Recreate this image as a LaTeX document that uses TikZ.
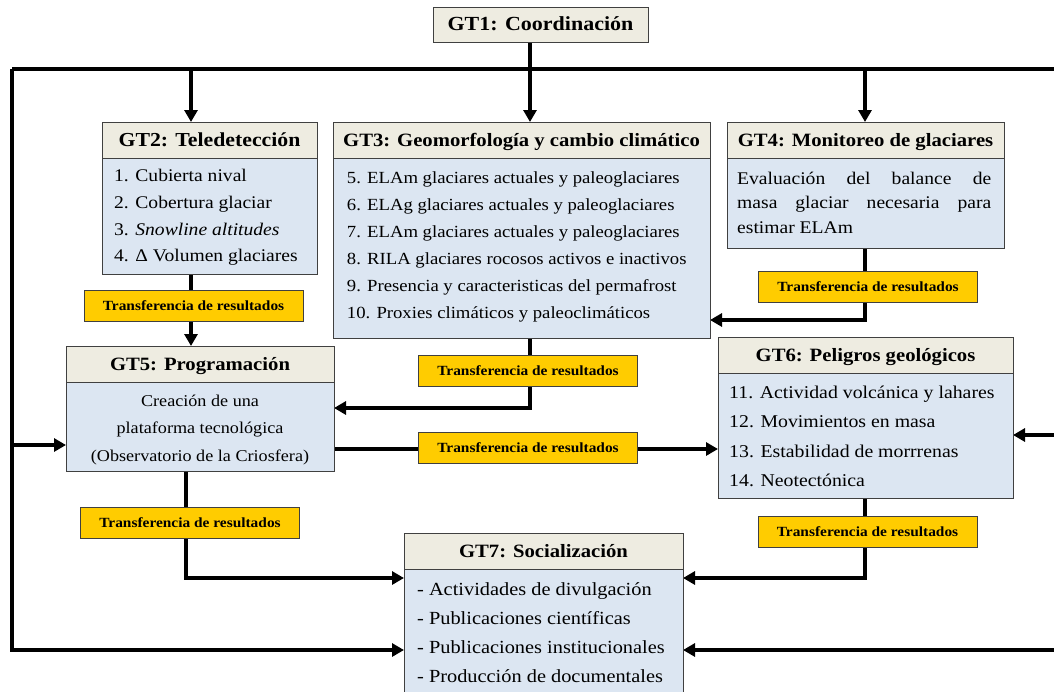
\documentclass[tikz,border=0pt]{standalone}
\usepackage{fontspec}
\setmainfont{Liberation Serif}[FakeStretch=1.1]
\usetikzlibrary{arrows.meta,backgrounds}
\definecolor{hdrc}{HTML}{EEECE1}
\definecolor{bodyc}{HTML}{DCE6F2}
\definecolor{labc}{HTML}{FFCC00}
\definecolor{edgec}{HTML}{404040}
\tikzset{
  box/.style={draw=edgec,line width=0.8pt,inner sep=0pt,outer sep=0pt},
  hdr/.style={box,fill=hdrc,font=\bfseries\fontsize{18.8}{20}\selectfont,text height=12.3pt,text depth=0pt},
  bodybox/.style={box,fill=bodyc},
  lab/.style={box,fill=labc,font=\bfseries\fontsize{14}{16}\selectfont,text height=9.5pt,text depth=0pt,minimum width=219pt,minimum height=31pt},
  item/.style={inner sep=0pt,anchor=base west},
  citem/.style={inner sep=0pt,anchor=base},
  conn/.style={line width=3.5pt,-{Triangle[length=12pt,width=13pt]}},
  bus/.style={line width=3.5pt},
}
\begin{document}
\begin{tikzpicture}[x=1pt,y=-1pt]
\useasboundingbox (0,0) rectangle (1054,691);
% boxes
\node[hdr,minimum width=215pt,minimum height=35pt,font=\bfseries\fontsize{20}{22}\selectfont] (GT1) at (540.5,24.5) {GT1: Coordinación};
\node[hdr,minimum width=215pt,minimum height=36pt,font=\bfseries\fontsize{19.8}{22}\selectfont] (GT2h) at (209.5,140) {GT2: Teledetección};
\node[bodybox,minimum width=215pt,minimum height=116pt] (GT2b) at (209.5,216) {};
\node[hdr,minimum width=377pt,minimum height=36pt] (GT3h) at (521.5,140) {GT3: Geomorfología y cambio climático};
\node[bodybox,minimum width=377pt,minimum height=180pt] (GT3b) at (521.5,248) {};
\node[hdr,minimum width=277pt,minimum height=36pt] (GT4h) at (865.5,140) {GT4: Monitoreo de glaciares};
\node[bodybox,minimum width=277pt,minimum height=90pt] (GT4b) at (865.5,203) {};
\node[hdr,minimum width=268pt,minimum height=36pt] (GT5h) at (200,364) {GT5: Programación};
\node[bodybox,minimum width=268pt,minimum height=89pt] (GT5b) at (200,426.5) {};
\node[hdr,minimum width=295pt,minimum height=36pt] (GT6h) at (865.5,355) {GT6: Peligros geológicos};
\node[bodybox,minimum width=295pt,minimum height=125pt] (GT6b) at (865.5,435.5) {};
\node[hdr,minimum width=279pt,minimum height=36pt] (GT7h) at (543.5,551) {GT7: Socialización};
\node[bodybox,minimum width=279pt,minimum height=131pt] (GT7b) at (543.5,634.5) {};
% texts
\begin{scope}[font=\fontsize{17.8}{20}\selectfont]
\foreach \t [count=\i] in {1. Cubierta nival,2. Cobertura glaciar,{3. \textit{Snowline altitudes}},4. Δ Volumen glaciares}
  \node[item] (GT2i\i) at (114,{181.7+26.67*(\i-1)}) {\t};
\end{scope}
\begin{scope}[font=\fontsize{17}{20}\selectfont]
\foreach \t [count=\i] in {5. ELAm glaciares actuales y paleoglaciares,6. ELAg glaciares actuales y paleoglaciares,7. ELAm glaciares actuales y paleoglaciares,8. RILA glaciares rocosos activos e inactivos,9. Presencia y caracteristicas del permafrost,10. Proxies climáticos y paleoclimáticos}
  \node[item] (GT3i\i) at (346.7,{183.3+27*(\i-1)}) {\t};
\end{scope}
\begin{scope}[font=\fontsize{17.8}{20}\selectfont]
\node[item] (GT4i1) at (737,184.3) {\hbox to 254pt{Evaluación\hfill del\hfill balance\hfill de}};
\node[item] (GT4i2) at (737,208.8) {\hbox to 254pt{masa\hfill glaciar\hfill necesaria\hfill para}};
\node[item] (GT4i3) at (737,233.3) {estimar ELAm};
\end{scope}
\begin{scope}[font=\fontsize{16.5}{20}\selectfont]
\foreach \t [count=\i] in {Creación de una,plataforma tecnológica,(Observatorio de la Criosfera)}
  \node[citem] (GT5i\i) at (200,{406+27.8*(\i-1)}) {\t};
\end{scope}
\begin{scope}[font=\fontsize{18}{20}\selectfont]
\foreach \t [count=\i] in {11. Actividad volcánica y lahares,12. Movimientos en masa,13. Estabilidad de morrrenas,14. Neotectónica}
  \node[item] (GT6i\i) at (729,{398.3+29.5*(\i-1)}) {\t};
\end{scope}
\begin{scope}[font=\fontsize{18.5}{20}\selectfont]
\foreach \t [count=\i] in {- Actividades de divulgación,- Publicaciones científicas,- Publicaciones institucionales,- Producción de documentales}
  \node[item] (GT7i\i) at (417,{595+29.2*(\i-1)}) {\t};
\end{scope}
% labels
\node[lab] (T1) at (193.5,306) {Transferencia de resultados};
\node[lab] (T3) at (528,370.5) {Transferencia de resultados};
\node[lab] (T4) at (868,286.5) {Transferencia de resultados};
\node[lab] (T5a) at (528,448) {Transferencia de resultados};
\node[lab] (T5b) at (190,522.5) {Transferencia de resultados};
\node[lab] (T6) at (867.5,531.5) {Transferencia de resultados};
% junction coordinates
\coordinate (TL) at (12,69);
\coordinate (TR) at (1054,69);
\coordinate (BL) at (12,650);
\coordinate (xa) at (191,69);
\coordinate (xb) at (530,69);
\coordinate (xc) at (865,69);
\coordinate (j1) at (530,408);
\coordinate (j2) at (865,320);
\coordinate (j3) at (12,445);
\coordinate (j4) at (334,449);
\coordinate (j5) at (1054,435);
\coordinate (j6) at (186,578);
\coordinate (j7) at (865,578);
\coordinate (j8) at (1054,650);
\begin{pgfonlayer}{background}
\draw[bus] (TR) -- (TL);
\draw[conn] (TL) -- (BL) -- (BL -| GT7b.west);
\draw[conn] (xa) -- (xa |- GT2h.north);
\draw[conn] (xb |- GT1.south) -- (xb |- GT3h.north);
\draw[conn] (xc) -- (xc |- GT4h.north);
\draw[conn] (xa |- GT2b.south) -- (xa |- GT5h.north);
\draw[conn] (j1 |- GT3b.south) -- (j1) -- (j1 -| GT5b.east);
\draw[conn] (j2 |- GT4b.south) -- (j2) -- (j2 -| GT3b.east);
\draw[conn] (j3) -- (j3 -| GT5b.west);
\draw[conn] (j4 -| GT5b.east) -- (j4 -| GT6b.west);
\draw[conn] (j5) -- (j5 -| GT6b.east);
\draw[conn] (j6 |- GT5b.south) -- (j6) -- (j6 -| GT7b.west);
\draw[conn] (j7 |- GT6b.south) -- (j7) -- (j7 -| GT7b.east);
\draw[conn] (j8) -- (j8 -| GT7b.east);
\end{pgfonlayer}
\end{tikzpicture}
\end{document}
